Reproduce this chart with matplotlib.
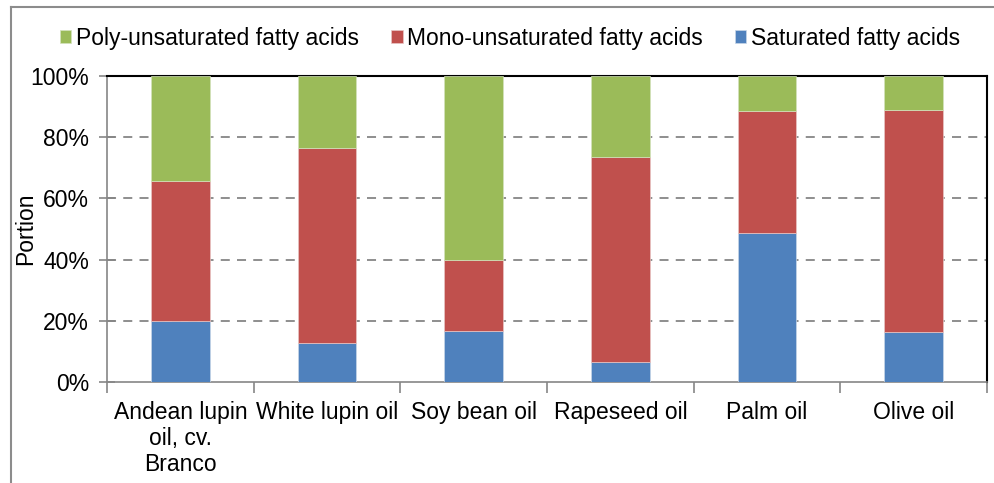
import matplotlib
matplotlib.use("Agg")
import matplotlib.pyplot as plt
from matplotlib.lines import Line2D
from matplotlib.ticker import FixedLocator, PercentFormatter

plt.rcParams['font.family'] = ['Liberation Sans', 'DejaVu Sans']

oils = ['Andean lupin\noil, cv.\nBranco', 'White lupin oil', 'Soy bean oil',
        'Rapeseed oil', 'Palm oil', 'Olive oil']
saturated = [19.8, 12.7, 16.6, 6.4, 48.6, 16.3]
mono = [45.9, 63.7, 23.3, 67.1, 40.1, 72.7]
poly = [34.3, 23.6, 60.1, 26.5, 11.3, 11.0]

c_sat = '#4F81BD'
c_mono = '#C0504D'
c_poly = '#9BBB59'
grey = '#868686'
fs = 16.5

fig = plt.figure(figsize=(9.94, 4.83), dpi=100)
ax = fig.add_axes([107 / 994, 1 - 382 / 483, 880 / 994, 306 / 483])

x = list(range(len(oils)))
w = 0.40
b_sat = ax.bar(x, saturated, w, color=c_sat, edgecolor='#c8d6e8', linewidth=0.5,
               label='Saturated fatty acids', zorder=3)
b_mono = ax.bar(x, mono, w, bottom=saturated, color=c_mono, edgecolor='#e8c6c5',
                linewidth=0.5, label='Mono-unsaturated fatty acids', zorder=3)
bottom2 = [s + m for s, m in zip(saturated, mono)]
b_poly = ax.bar(x, poly, w, bottom=bottom2, color=c_poly, edgecolor='#d4e2bd',
                linewidth=0.5, label='Poly-unsaturated fatty acids', zorder=3)

ax.set_xlim(-0.5, len(oils) - 0.5)
ax.set_ylim(0, 100)
ax.yaxis.set_major_locator(FixedLocator([0, 20, 40, 60, 80, 100]))
ax.yaxis.set_major_formatter(PercentFormatter(decimals=0))
ax.set_xticks(x)
ax.set_xticklabels(oils, fontsize=fs, linespacing=1.15)
ax.xaxis.set_minor_locator(FixedLocator([i - 0.5 for i in range(len(oils) + 1)]))
ax.tick_params(axis='x', which='major', length=0, pad=14)
ax.tick_params(axis='x', which='minor', length=8, color=grey, width=1.2, direction='out')
ax.tick_params(axis='y', labelsize=fs, length=12, direction='inout', color=grey,
               width=1.2, pad=7)

for yv in [20, 40, 60, 80]:
    ax.axhline(yv, color=grey, linestyle=(0, (5, 4)), linewidth=1.3, zorder=1)

ax.spines['left'].set_color(grey)
ax.spines['bottom'].set_color(grey)
ax.spines['left'].set_linewidth(1.2)
ax.spines['bottom'].set_linewidth(1.2)
ax.spines['top'].set_color('black')
ax.spines['right'].set_color('black')
ax.spines['top'].set_linewidth(1.5)
ax.spines['right'].set_linewidth(1.5)

ax.set_ylabel('Portion', fontsize=fs)
ax.yaxis.set_label_coords(-0.079, 0.5)

fig.legend(handles=[b_poly, b_mono, b_sat],
           labels=['Poly-unsaturated fatty acids', 'Mono-unsaturated fatty acids',
                   'Saturated fatty acids'],
           loc='center', bbox_to_anchor=(510 / 994, 1 - 38 / 483), ncol=3,
           frameon=False, fontsize=fs, handlelength=0.5, handleheight=0.5,
           handletextpad=0.2, columnspacing=1.4)

# outer chart border (cropped)
fig.add_artist(Line2D([11 / 994, 11 / 994], [0, 1 - 7 / 483], color='#8c8c8c',
                      linewidth=1.5, transform=fig.transFigure))
fig.add_artist(Line2D([11 / 994, 1], [1 - 7 / 483, 1 - 7 / 483], color='#8c8c8c',
                      linewidth=1.5, transform=fig.transFigure))

fig.savefig('out.png', dpi=100)
